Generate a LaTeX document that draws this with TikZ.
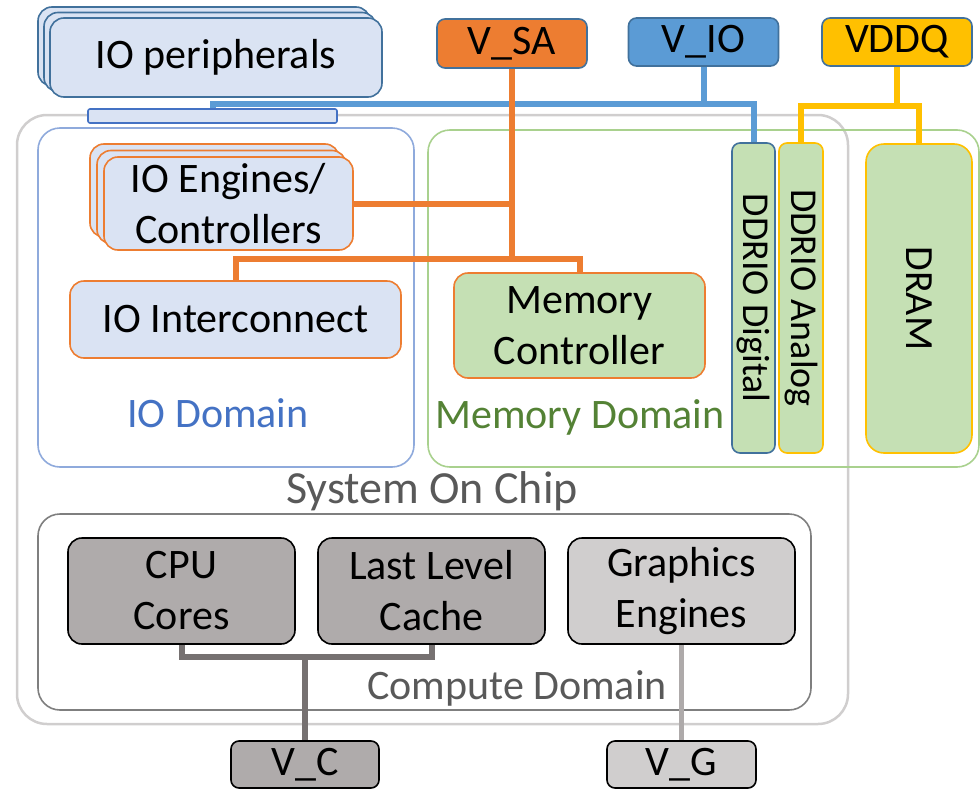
\documentclass[tikz,border=0pt]{standalone}
\usepackage{fontspec}
\setmainfont{Carlito}
\usepackage{tikz}
\usetikzlibrary{shadows}

\definecolor{lblue}{HTML}{DAE3F3}
\definecolor{railedge}{HTML}{41719C}
\definecolor{barblue}{HTML}{4472C4}
\definecolor{saorange}{HTML}{ED7D31}
\definecolor{ioblue}{HTML}{5B9BD5}
\definecolor{dqyellow}{HTML}{FFC000}
\definecolor{memgreen}{HTML}{C5E0B4}
\definecolor{iodom}{HTML}{8FAADC}
\definecolor{iotext}{HTML}{4472C4}
\definecolor{memdom}{HTML}{A9D18E}
\definecolor{memtext}{HTML}{548235}
\definecolor{socgray}{HTML}{D0CECE}
\definecolor{cmpgray}{HTML}{7F7F7F}
\definecolor{captgray}{HTML}{595959}
\definecolor{cpugray}{HTML}{AFABAB}
\definecolor{gfxgray}{HTML}{D0CECE}
\definecolor{cwire}{HTML}{767171}
\definecolor{gwire}{HTML}{AEAAAA}

\begin{document}
\begin{tikzpicture}[x=1pt,y=-1pt,
  lbl/.style={font=\fontsize{42}{51}\selectfont},
  unit/.style={draw,rounded corners=14pt,line width=1.6pt,align=center,inner sep=0pt,lbl},
  rail/.style={unit,rounded corners=8pt,minimum width=150pt,minimum height=48pt},
  area/.style={rounded corners=22pt,line width=1.6pt},
  wire/.style={line width=6pt}]
\useasboundingbox (0,0) rectangle (980,790);

% Domains
\draw[area,draw=socgray,line width=2.5pt,rounded corners=30pt] (17,115) rectangle (848,724);
\draw[area,draw=iodom] (38,128) rectangle (414,467);
\draw[area,draw=memdom] (428,130) rectangle (979,467);
\draw[area,draw=cmpgray] (38,514) rectangle (811,710);

\node[lbl,text=iotext,anchor=base] (iodomlbl) at (218,427) {IO Domain};
\node[lbl,text=memtext,anchor=base] (memdomlbl) at (580,428) {Memory Domain};
\node[font=\fontsize{46}{50}\selectfont,text=captgray,anchor=base] (soclbl) at (432,503) {System On Chip};
\node[lbl,text=captgray,anchor=base] (cmplbl) at (517,699) {Compute Domain};

% Supply rails
\node[rail,fill=saorange,draw=railedge,minimum height=49pt] (vsa) at (512,43.5) {V\_SA};
\node[rail,fill=ioblue,draw=railedge] (vio) at (703.5,42) {V\_IO};
\node[rail,fill=dqyellow,draw=railedge] (vddq) at (897,42) {VDDQ};
\node[rail,fill=cpugray,draw=black,minimum height=47pt,minimum width=148pt] (vc) at (305,764.5) {V\_C};
\node[rail,fill=gfxgray,draw=black,minimum height=47pt,minimum width=149pt] (vg) at (681.5,764.5) {V\_G};

% IO side
\node[unit,fill=lblue,draw=railedge,minimum width=332pt,minimum height=79pt,
  copy shadow={shadow xshift=-12pt,shadow yshift=11pt,fill=lblue,draw=railedge,line width=1.6pt},
  copy shadow={shadow xshift=-6pt,shadow yshift=5.5pt,fill=lblue,draw=railedge,line width=1.6pt}]
  (ioper) at (216,57.5) {IO peripherals};
\node[draw=barblue,fill=lblue,line width=1.6pt,rounded corners=2pt,minimum width=249pt,minimum height=14pt,inner sep=0pt] (iobar) at (212.5,116) {};
\node[unit,fill=lblue,draw=saorange,minimum width=249pt,minimum height=93pt,
  copy shadow={shadow xshift=-14pt,shadow yshift=13pt,fill=lblue,draw=saorange,line width=1.6pt},
  copy shadow={shadow xshift=-7pt,shadow yshift=6.5pt,fill=lblue,draw=saorange,line width=1.6pt}]
  (ioeng) at (228.5,203.5) {IO Engines/\\Controllers};
\node[unit,fill=lblue,draw=saorange,minimum width=331pt,minimum height=77pt] (ioic) at (235.5,319.5) {IO Interconnect};

% Memory side
\node[unit,fill=memgreen,draw=saorange,minimum width=251pt,minimum height=105pt] (memctl) at (579.5,325.5) {Memory\\Controller};
\node[unit,rounded corners=8pt,fill=memgreen,draw=railedge,minimum width=43pt,minimum height=310pt,font=\fontsize{38}{40}\selectfont] (ddrd) at (753.5,298) {\rotatebox{-90}{DDRIO Digital}};
\node[unit,rounded corners=8pt,fill=memgreen,draw=dqyellow,minimum width=44pt,minimum height=310pt,font=\fontsize{38}{40}\selectfont] (ddra) at (801,298) {\rotatebox{-90}{DDRIO Analog}};
\node[unit,rounded corners=18pt,fill=memgreen,draw=dqyellow,minimum width=106pt,minimum height=309pt,font=\fontsize{40}{44}\selectfont] (dram) at (919,298.5) {\rotatebox{-90}{DRAM}};

% Compute
\node[unit,fill=cpugray,draw=black,minimum width=227pt,minimum height=106pt] (cpu) at (181.5,591) {CPU\\Cores};
\node[unit,fill=cpugray,draw=black,minimum width=227pt,minimum height=106pt] (llc) at (431.5,591) {Last Level\\Cache};
\node[unit,fill=gfxgray,draw=black,minimum width=227pt,minimum height=106pt] (gfx) at (681.5,591) {Graphics\\Engines};

% Power wiring
\coordinate (iobus) at (212.5,104);
\coordinate (sabus) at (512,259);
\coordinate (dqbus) at (897,106);
\coordinate (cbus) at (305,657);

\draw[wire,ioblue] (iobar.north) -- (iobus) -| (ddrd.north);
\draw[wire,ioblue] (vio.south) -- (vio.south |- iobus);

\draw[wire,saorange] (vsa.south) -- (sabus);
\draw[wire,saorange] (ioeng.east) -- (ioeng.east -| sabus);
\draw[wire,saorange] (ioic.north) |- (sabus) -| (memctl.north);

\draw[wire,dqyellow] (vddq.south) -- (dqbus);
\draw[wire,dqyellow] (ddra.north) |- (dqbus) -| (dram.north);

\draw[wire,cwire] (cpu.south) |- (cbus) -| (llc.south);
\draw[wire,cwire] (cbus) -- (vc.north);
\draw[wire,gwire,line width=4.5pt] (gfx.south) -- (vg.north);
\end{tikzpicture}
\end{document}
